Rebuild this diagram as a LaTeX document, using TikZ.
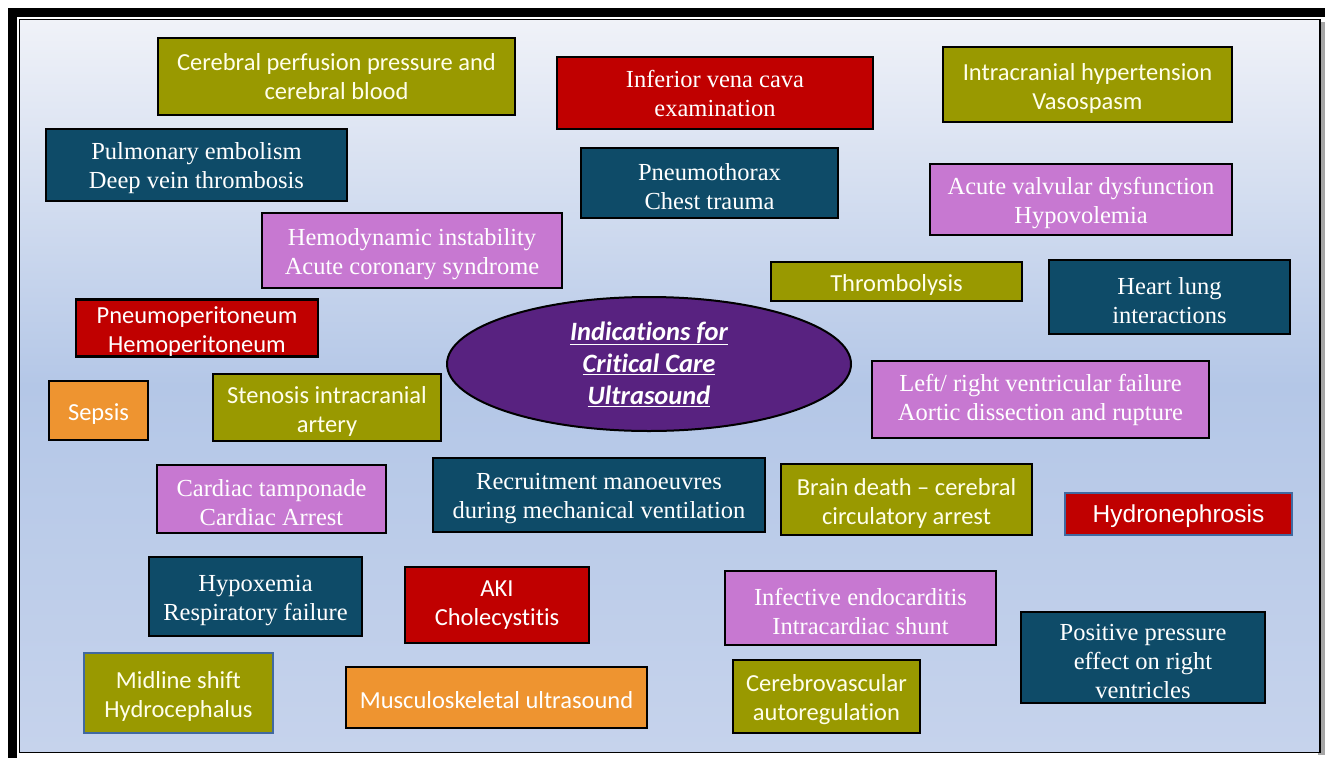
\documentclass[tikz,border=0pt]{standalone}
\usepackage{fontspec}
\setmainfont{Liberation Serif}
\newfontfamily\sansC[Ligatures={NoCommon,TeX}]{Carlito}
\newfontfamily\serifT{Liberation Serif}
\newfontfamily\arialF{Liberation Sans}
\usetikzlibrary{shapes.geometric}
\newcommand{\boxstrut}{\rule{0pt}{24pt}}
\definecolor{oliveC}{RGB}{153,153,0}
\definecolor{redC}{RGB}{192,0,0}
\definecolor{tealC}{RGB}{14,75,104}
\definecolor{orchidC}{RGB}{199,120,209}
\definecolor{orangeC}{RGB}{238,148,48}
\definecolor{purpleC}{RGB}{88,34,128}
\definecolor{bgTop}{RGB}{240,242,248}
\definecolor{bgMid}{RGB}{180,199,231}
\definecolor{bgBot}{RGB}{198,211,236}
\definecolor{edgeBlue}{RGB}{65,105,160}
\definecolor{creamW}{RGB}{255,255,235}
\tikzset{
  box/.style={draw=black, line width=2.5pt, inner sep=0pt, align=center, text=white,
    execute at begin node={\rule{0pt}{23pt}}},
  sansbox/.style={box, font=\sansC\fontsize{24.5}{29}\selectfont, text=creamW},
  serifbox/.style={box, font=\serifT\fontsize{24.5}{29}\selectfont},
  olivebox/.style={sansbox, fill=oliveC},
  redsans/.style={sansbox, fill=redC, text=white},
  redserif/.style={serifbox, fill=redC},
  tealbox/.style={serifbox, fill=tealC},
  orchidbox/.style={serifbox, fill=orchidC},
  orangebox/.style={sansbox, fill=orangeC, text=white},
  bluerim/.style={draw=edgeBlue, line width=2pt},
}
\begin{document}
\begin{tikzpicture}[x=1pt,y=-1pt]
\useasboundingbox (0,0) rectangle (1325,758);
\fill[white] (0,0) rectangle (1325,758);
% outer frame
\fill[black] (8,8) rectangle (1325,16.5);
\fill[black] (8,8) rectangle (16.5,758);
% panel
\fill[gray!70] (1318,22) rectangle (1325,755);
\shade[top color=bgTop, bottom color=bgBot, middle color=bgMid] (19.5,19.5) rectangle (1320,752);
\draw[black, line width=1.5pt] (19.5,19.5) rectangle (1320,752.5);

\node[olivebox, minimum width=357, minimum height=77] (cpp) at (336.5,76.5) {Cerebral perfusion pressure and\\cerebral blood};
\node[redserif, minimum width=316, minimum height=72] (ivc) at (715,93) {Inferior vena cava\\examination};
\node[olivebox, minimum width=289, minimum height=75] (ich) at (1087.5,84.5) {\boxstrut Intracranial hypertension\\Vasospasm};
\node[tealbox, minimum width=301, minimum height=72] (pe) at (196.5,165) {\boxstrut Pulmonary embolism\\Deep vein thrombosis};
\node[tealbox, minimum width=257, minimum height=70] (ptx) at (709.5,183) {\boxstrut Pneumothorax\\Chest trauma};
\node[orchidbox, minimum width=302, minimum height=71] (avd) at (1081,199.5) {\boxstrut Acute valvular dysfunction\\Hypovolemia};
\node[orchidbox, minimum width=300, minimum height=75] (hi) at (412,250.5) {\boxstrut Hemodynamic instability\\Acute coronary syndrome};
\node[olivebox, minimum width=251, minimum height=39] (thr) at (896.5,281.5) {Thrombolysis};
\node[tealbox, minimum width=241, minimum height=74] (hli) at (1169.5,297) {\boxstrut Heart lung\\interactions};
\node[redsans, minimum width=242, minimum height=56] (pp) at (197,328) {\boxstrut Pneumoperitoneum\\Hemoperitoneum};

\node[ellipse, draw=black, line width=2pt, fill=purpleC, minimum width=404, minimum height=134, inner sep=0pt, align=center, text=white, font=\sansC\bfseries\itshape\fontsize{26.5}{32}\selectfont] (title) at (649,364) {\underline{Indications for}\\\underline{Critical Care}\\\underline{Ultrasound}};

\node[orangebox, minimum width=99, minimum height=59] (sep) at (98.5,410.5) {Sepsis};
\node[olivebox, minimum width=228, minimum height=67] (sia) at (327,407.5) {\boxstrut Stenosis intracranial\\artery};
\node[orchidbox, minimum width=337, minimum height=77] (lrv) at (1040.5,399.5) {Left/ right ventricular failure\\Aortic dissection and rupture};
\node[orchidbox, minimum width=229, minimum height=68] (ct) at (271.5,499) {\boxstrut Cardiac tamponade\\Cardiac Arrest};
\node[tealbox, minimum width=332, minimum height=74] (rm) at (599,495) {\boxstrut Recruitment manoeuvres\\during mechanical ventilation};
\node[olivebox, minimum width=251, minimum height=71] (bd) at (906.5,499.5) {\boxstrut Brain death – cerebral\\circulatory arrest};
\node[box, bluerim, fill=redC, font=\arialF\fontsize{24.5}{29}\selectfont, minimum width=227, minimum height=42] (hyd) at (1178.5,514) {Hydronephrosis};
\node[tealbox, minimum width=213, minimum height=79] (hyp) at (255.5,596.5) {\boxstrut Hypoxemia\\Respiratory failure};
\node[redsans, minimum width=184, minimum height=76] (aki) at (497,605) {AKI\\Cholecystitis};
\node[orchidbox, minimum width=271, minimum height=74] (ie) at (860.5,608) {\boxstrut Infective endocarditis\\Intracardiac shunt};
\node[tealbox, minimum width=244, minimum height=91] (ppe) at (1143,657.5) {\boxstrut Positive pressure\\effect on right\\ventricles};
\node[olivebox, bluerim, minimum width=189, minimum height=80] (ms) at (178.5,693) {\boxstrut Midline shift\\Hydrocephalus};
\node[orangebox, minimum width=301, minimum height=61] (msk) at (496.5,697.5) {Musculoskeletal ultrasound};
\node[olivebox, minimum width=187, minimum height=73] (cva) at (826.5,696.5) {\boxstrut Cerebrovascular\\autoregulation};
\end{tikzpicture}
\end{document}
